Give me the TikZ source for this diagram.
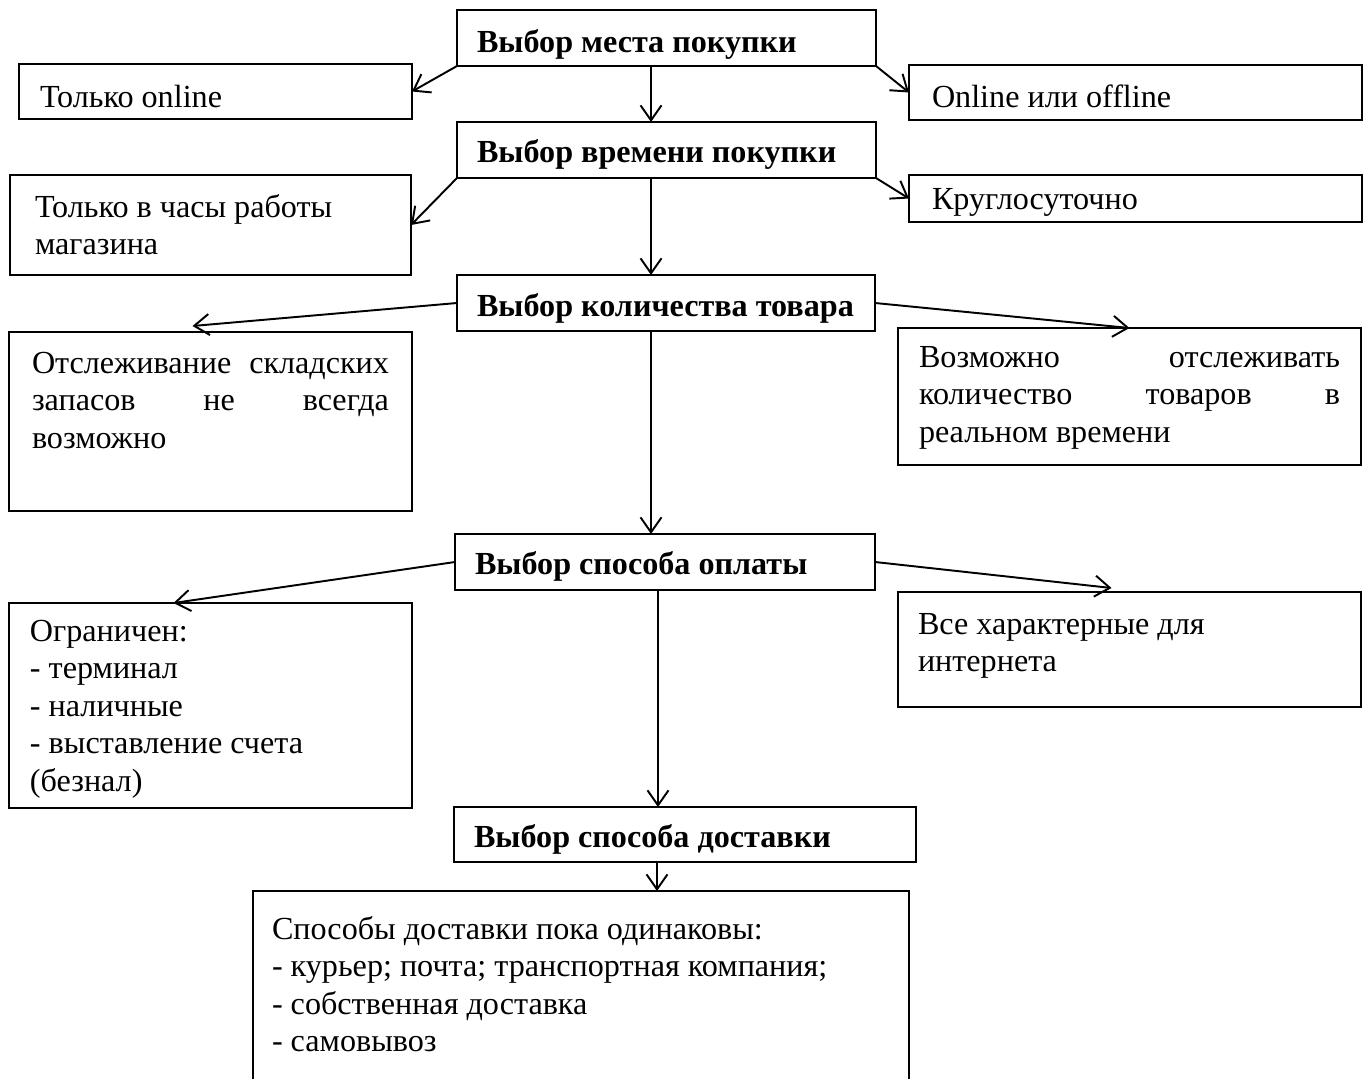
\documentclass[tikz,border=0pt]{standalone}
\usepackage{fontspec}
\setmainfont{Liberation Serif}
\usetikzlibrary{arrows.meta,positioning}
\newlength{\pxu}\setlength{\pxu}{0.02cm}
% width, height, first baseline, text
\newcommand{\boxtext}[4]{\parbox[t][#2\pxu][t]{#1\pxu}{\rule{0pt}{#3\pxu}#4}}
\hyphenpenalty=10000

\begin{document}
\begin{tikzpicture}[x=0.02cm, y=-0.02cm,
	every node/.style={font=\fontsize{18.3}{21.4}\selectfont},
	box/.style={draw, line width=1.1pt, anchor=north west, inner ysep=0pt, outer sep=0pt, inner xsep=#1\pxu},
	box/.default=21,
	arr/.style={-{Straight Barb[length=0.3cm,width=0.42cm]}, line width=1.1pt}]
	\useasboundingbox (0,0) rectangle (1370,1079);
	\clip (0,0) rectangle (1370,1079);

	\node[box=20] (place) at (457,10) {\boxtext{379}{56}{42}{\mbox{\bfseries Выбор места покупки}}};
	\node[box] (online) at (19,64) {\boxtext{351}{55}{43}{Только online}};
	\node[box=23] (both) at (909,65) {\boxtext{407}{55}{42}{Online или offline}};

	\node[box=20] (time) at (457,122) {\boxtext{379}{56}{40}{\mbox{\bfseries Выбор времени покупки}}};
	\node[box=25] (hours) at (10,175) {\boxtext{351}{100}{42}{Только в часы работы\\магазина}};
	\node[box=23] (allday) at (909,175) {\boxtext{407}{47}{34}{Круглосуточно}};

	\node[box=20] (amount) at (457,275) {\boxtext{378}{56}{41}{\mbox{\bfseries Выбор количества товара}}};
	\node[box=23] (stock) at (9,332) {\boxtext{357}{179}{41}{Отслеживание\hfill складских\\запасов\hfill не\hfill всегда\\возможно}};
	\node[box] (realtime) at (898,328) {\boxtext{421}{137}{39}{Возможно\hfill отслеживать\\количество\hfill товаров\hfill в\\реальном времени}};

	\node[box=20] (pay) at (455,534) {\boxtext{380}{56}{40}{\mbox{\bfseries Выбор способа оплаты}}};
	\node[box] (limited) at (9,603) {\boxtext{361}{205}{38}{Ограничен:\\- терминал\\- наличные\\- выставление счета\\(безнал)}};
	\node[box=20] (allpay) at (898,592) {\boxtext{423}{115}{42}{Все характерные для\\интернета}};

	\node[box=20] (delivery) at (454,807) {\boxtext{422}{55}{40}{\mbox{\bfseries Выбор способа доставки}}};
	\node[box=19] (ways) at (253,891) {\boxtext{618}{220}{48}{Способы доставки пока одинаковы:\\- курьер; почта; транспортная компания;\\- собственная доставка\\- самовывоз}};

	\draw[arr] ([xshift=-15.5\pxu]place.south) -- ([xshift=-15.5\pxu]time.north);
	\draw[arr] (place.south west) -- (online.east);
	\draw[arr] (place.south east) -- (both.west);

	\draw[arr] ([xshift=-15.5\pxu]time.south) -- ([xshift=-15\pxu]amount.north);
	\draw[arr] (time.south west) -- (hours.east);
	\draw[arr] (time.south east) -- (allday.west);

	\draw[arr] ([xshift=-15\pxu]amount.south) -- ([xshift=-14\pxu]pay.north);
	\draw[arr] (amount.west) -- ([xshift=-18\pxu,yshift=6\pxu]stock.north);
	\draw[arr] (amount.east) -- (realtime.north);

	\draw[arr] ([xshift=-7\pxu]pay.south) -- ([xshift=-27\pxu]delivery.north);
	\draw[arr] (pay.west) -- ([xshift=-37\pxu]limited.north);
	\draw[arr] (pay.east) -- ([xshift=-18\pxu,yshift=4\pxu]allpay.north);

	\draw[arr] ([xshift=-28\pxu]delivery.south) -- ([xshift=76\pxu]ways.north);
\end{tikzpicture}
\end{document}
